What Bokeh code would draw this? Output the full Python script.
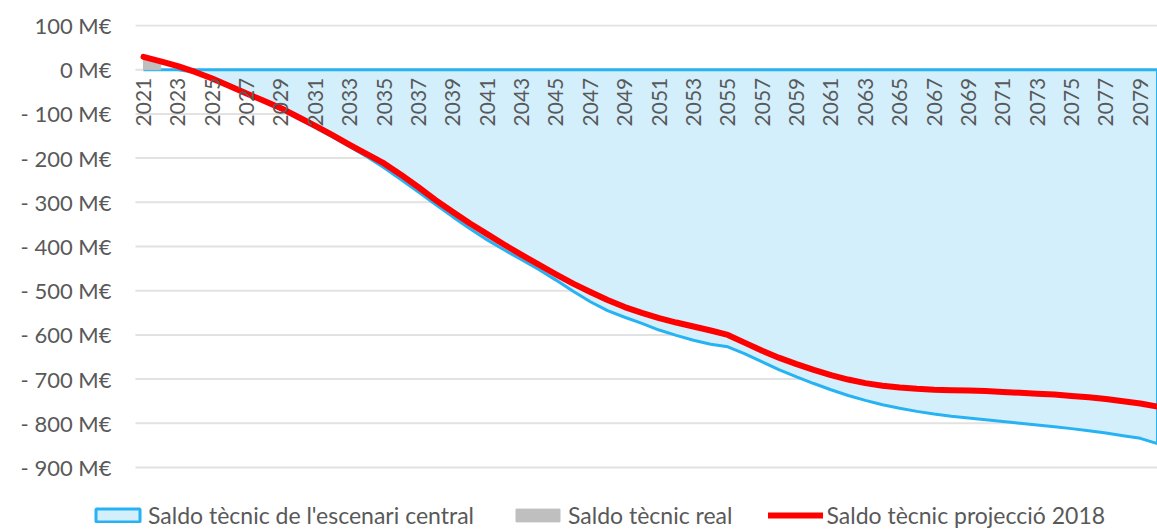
import math
from bokeh.plotting import figure
from bokeh.models import Range1d, FixedTicker, Legend, LegendItem
from bokeh.embed import file_html
from bokeh.resources import INLINE

years = list(range(2021, 2081))

central = [0, 0, 0, -6, -21, -38, -55, -72, -90, -110,
           -131, -152, -174, -197, -222, -249, -277, -305, -333, -360,
           -385, -408, -430, -452, -476, -501, -525, -545, -560, -574,
           -589, -601, -612, -621, -627, -643, -661, -679, -695, -710,
           -724, -737, -748, -758, -766, -773, -779, -784, -788, -792,
           -796, -800, -804, -808, -812, -817, -822, -828, -834, -846]

real_years = [2021, 2022]
real = [25, 15]

proj2018 = [29, 19, 8, -5, -20, -37, -54, -70, -87, -107,
            -127, -148, -170, -191, -212, -238, -266, -295, -322, -348,
            -372, -396, -419, -441, -463, -484, -503, -521, -537, -550,
            -562, -572, -581, -590, -600, -618, -636, -652, -666, -679,
            -691, -701, -709, -715, -719, -722, -724, -725, -726, -727,
            -729, -731, -733, -735, -738, -741, -745, -750, -755, -762]

x_ticks = years[::2]
y_ticks = [100, 0, -100, -200, -300, -400, -500, -600, -700, -800, -900]
y_labels = ["100 M€", "0 M€", "- 100 M€", "- 200 M€", "- 300 M€", "- 400 M€",
            "- 500 M€", "- 600 M€", "- 700 M€", "- 800 M€", "- 900 M€"]

series_names = ["Saldo tècnic de l'escenari central", "Saldo tècnic real",
                "Saldo tècnic projecció 2018"]

FONT = "Lato"
TXT = "#595959"

PX_PER_YEAR = 17.19
FRAME_LEFT = 82
grid_start = years[0] - 8 / PX_PER_YEAR

p = figure(width=1157, height=530, output_backend="svg", toolbar_location=None,
           x_range=Range1d(years[0] - (143 - FRAME_LEFT) / PX_PER_YEAR, years[-1]),
           y_range=Range1d(-1042.5, 102.3),
           min_border_left=FRAME_LEFT, min_border_right=0, min_border_top=24,
           min_border_bottom=0)
p.outline_line_color = None
p.background_fill_color = "white"

# grid (drawn only over the chart area)
p.xgrid.grid_line_color = None
p.ygrid.grid_line_color = None
p.segment(x0=[grid_start] * len(y_ticks), x1=[years[-1]] * len(y_ticks),
          y0=y_ticks, y1=y_ticks, line_color="#E2E2E2", line_width=2)

# areas
cx = [years[0]] + years + [years[-1]]
cy = [0] + central + [0]
blue = p.patch(cx, cy, fill_color="#D3EFFC", line_color="#27B3F3", line_width=3)

gx = [real_years[0]] + real_years + [real_years[-1]]
gy = [0] + real + [0]
gray = p.patch(gx, gy, fill_color="#BFBFBF", line_color="#BFBFBF", line_width=1)

red = p.line(years, proj2018, line_color="#FF0000", line_width=6, line_cap="round",
             line_join="round")

# y axis
p.yaxis.ticker = FixedTicker(ticks=y_ticks)
p.yaxis.major_label_overrides = {t: l for t, l in zip(y_ticks, y_labels)}
p.yaxis.axis_line_color = None
p.yaxis.major_tick_line_color = None
p.yaxis.minor_tick_line_color = None
p.yaxis.major_tick_out = 0
p.yaxis.major_tick_in = 0
p.yaxis.major_label_standoff = -(111 - FRAME_LEFT)
p.yaxis.major_label_text_font = FONT
p.yaxis.major_label_text_font_size = "22px"
p.yaxis.major_label_text_color = TXT

# x axis at y = 0
p.xaxis.fixed_location = 0
p.xaxis.ticker = FixedTicker(ticks=x_ticks)
p.xaxis.major_label_overrides = {t: str(t) for t in x_ticks}
p.xaxis.axis_line_color = None
p.xaxis.major_tick_line_color = None
p.xaxis.minor_tick_line_color = None
p.xaxis.major_tick_out = 0
p.xaxis.major_tick_in = 0
p.xaxis.major_label_standoff = 8
p.xaxis.major_label_orientation = math.pi / 2
p.xaxis.major_label_text_font = FONT
p.xaxis.major_label_text_font_size = "21px"
p.xaxis.major_label_text_color = TXT

legend = Legend(items=[LegendItem(label=series_names[0], renderers=[blue]),
                       LegendItem(label=series_names[1], renderers=[gray]),
                       LegendItem(label=series_names[2], renderers=[red])],
                orientation="horizontal", location=(90 - FRAME_LEFT, 1),
                border_line_color=None, background_fill_alpha=0,
                padding=0, margin=0, spacing=36, label_standoff=3,
                glyph_width=55, glyph_height=16,
                label_text_font=FONT, label_text_font_size="23px",
                label_text_color=TXT)
p.add_layout(legend, "center")

open("out.html", "w").write(file_html(p, INLINE))
